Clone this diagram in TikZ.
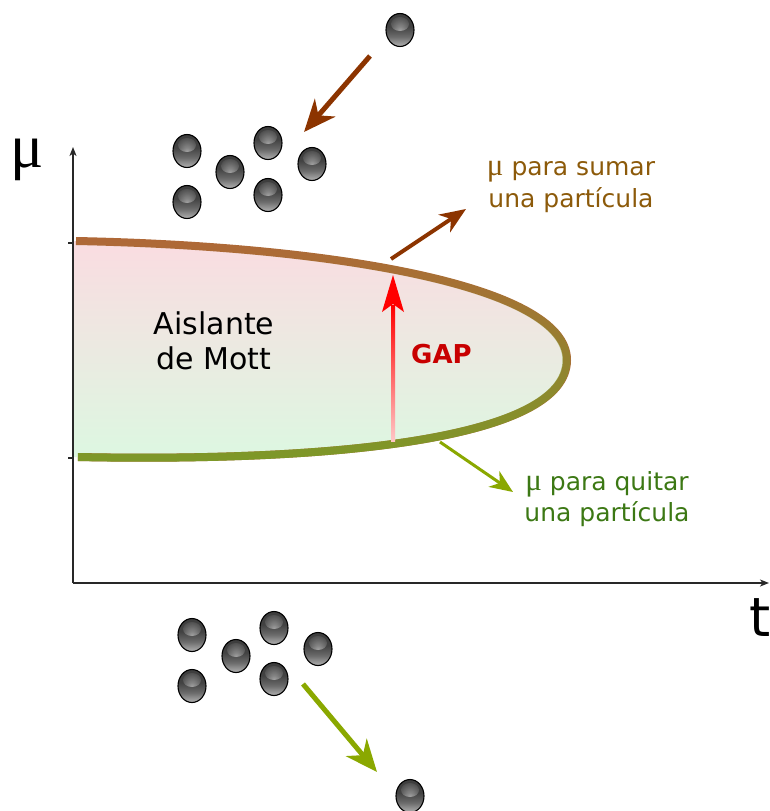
\documentclass[tikz,border=0pt]{standalone}
\usepackage{fontspec}
\setmainfont{DejaVu Sans}
\newfontfamily\greekf{Liberation Serif}
\usetikzlibrary{arrows.meta,shapes.geometric,fadings,calc}

\definecolor{lobetop}{RGB}{176,104,56}
\definecolor{lobebot}{RGB}{124,154,40}
\definecolor{fillpink}{RGB}{250,220,225}
\definecolor{fillgreen}{RGB}{220,248,225}
\definecolor{addbrown}{RGB}{140,52,0}
\definecolor{remgreen}{RGB}{138,168,0}
\definecolor{addtext}{RGB}{140,90,10}
\definecolor{remtext}{RGB}{60,120,20}
\definecolor{gaptext}{RGB}{200,0,0}
\definecolor{axisgray}{RGB}{40,40,40}

% body of a particle: light at the bottom, dark at the top
\pgfdeclareverticalshading{ballbody}{100bp}{%
  color(0bp)=(black!28); color(25bp)=(black!30); color(40bp)=(black!58);
  color(55bp)=(black!74); color(75bp)=(black!76); color(100bp)=(black!76)}

\tikzfading[name=glow, inner color=transparent!0, outer color=transparent!100]
\tikzfading[name=lobefade, top color=transparent!100, bottom color=transparent!0]

\tikzset{
  particle/.style={ellipse, minimum width=28pt, minimum height=33pt, inner sep=0pt,
    shade, shading=ballbody, draw=black, line width=1.1pt,
    path picture={\fill[white, opacity=0.45, path fading=glow]
      ($(path picture bounding box.center)+(0,-6)$) ellipse [x radius=9pt, y radius=7pt];}},
  axisline/.style={draw=axisgray, line width=1.4pt},
  axistip/.style={-{Stealth[length=9pt,width=7pt,inset=2.5pt]}},
  lobestroke/.style={line width=8pt, line cap=butt},
  addarrow/.style={draw=addbrown, line width=#1},
  remarrow/.style={draw=remgreen, line width=#1},
  bigsym/.style={inner sep=0pt, font=\fontsize{54}{60}\selectfont},
  mottlabel/.style={inner sep=0pt, font=\fontsize{30}{35}\selectfont},
  gaplabel/.style={inner sep=0pt, text=gaptext, font=\fontsize{26}{30}\selectfont\bfseries},
  addlabel/.style={inner sep=0pt, text=addtext, font=\fontsize{25}{30}\selectfont},
  remlabel/.style={inner sep=0pt, text=remtext, font=\fontsize{25}{30}\selectfont},
}

\begin{document}
\begin{tikzpicture}[x=1pt, y=-1pt]
\useasboundingbox (0,0) rectangle (770,811);

% Mott lobe: shaded interior
\shade[top color=fillpink, bottom color=fillgreen]
  (74.5,241) -- (76,241) .. controls (330,246) and (567,285) .. (567,360)
  .. controls (567,440) and (330,462) .. (78,457) -- (74.5,457) -- cycle;

% Mott lobe boundary, brown above blending into green below
\draw[lobestroke, lobetop]
  (76,241) .. controls (330,246) and (567,285) .. (567,360)
  .. controls (567,440) and (330,462) .. (78,457);
\draw[lobestroke, lobebot, path fading=lobefade, fit fading=true]
  (76,241) .. controls (330,246) and (567,285) .. (567,360)
  .. controls (567,440) and (330,462) .. (78,457);

% axes
\coordinate (origin) at (73,583);
\coordinate (ytop) at (73,147);
\coordinate (xend) at (769,583);
\draw[axisline, axistip] (origin) -- (ytop);
\draw[axisline, axistip] (origin) -- (xend);
\draw[axisline] (68,243) -- (73,243);
\draw[axisline] (68,458) -- (73,458);
\node[bigsym] (mu) at (27,160) {\greekf\fontsize{62}{60}\selectfont μ};
\node[bigsym] (t) at (760,618) {t};

% labels
\node[mottlabel, anchor=base] (mott1) at (214,334) {Aislante};
\node[mottlabel, anchor=base] (mott2) at (214,369) {de Mott};
\node[gaplabel, anchor=base] (gap) at (441.5,363) {GAP};
\node[addlabel, anchor=base] (add1) at (571,175) {{\greekf\fontsize{31}{30}\selectfont μ} para sumar};
\node[addlabel, anchor=base] (add2) at (571,207) {una partícula};
\node[remlabel, anchor=base] (rem1) at (607,490) {{\greekf\fontsize{31}{30}\selectfont μ} para quitar};
\node[remlabel, anchor=base] (rem2) at (607,521) {una partícula};

% gap arrow: shaft fading out downwards, solid head
\coordinate (gapbot) at (393,441);
\coordinate (gaptop) at (393,275);
\shade[top color=red, bottom color=red!22]
  ($(gapbot)+(-2,0)$) rectangle ($(gaptop)+(2,30)$);
\fill[red] (gaptop) -- ($(gaptop)+(11,37)$) -- ($(gaptop)+(0,29)$)
  -- ($(gaptop)+(-11,37)$) -- cycle;

% chemical potential arrows
\coordinate (addfrom) at (391,259);
\coordinate (addto) at (466,209);
\draw[addarrow=4pt, -{Stealth[length=26pt,width=21pt,inset=8pt]}] (addfrom) -- (addto);
\coordinate (remfrom) at (440,442);
\coordinate (remto) at (513,492);
\draw[remarrow=3pt, -{Stealth[length=23pt,width=19pt,inset=7pt]}] (remfrom) -- (remto);

% particles: one joining the upper cluster
\node[particle] (pin) at (400,30) {};
\node[particle] (u1) at (187,151) {};
\node[particle] (u2) at (230,172) {};
\node[particle] (u3) at (268,143) {};
\node[particle] (u4) at (312,164) {};
\node[particle] (u5) at (187,202) {};
\node[particle] (u6) at (268,195) {};
\coordinate (infrom) at (370,56);
\coordinate (into) at (304,132);
\draw[addarrow=5pt, -{Stealth[length=32pt,width=27pt,inset=10pt]}] (infrom) -- (into);

% particles: one leaving the lower cluster
\node[particle] (l1) at (192,635) {};
\node[particle] (l2) at (236,656) {};
\node[particle] (l3) at (274,628) {};
\node[particle] (l4) at (318,649) {};
\node[particle] (l5) at (192,686) {};
\node[particle] (l6) at (274,679) {};
\node[particle] (pout) at (410,796) {};
\coordinate (outfrom) at (303,684);
\coordinate (outto) at (377,772);
\draw[remarrow=5pt, -{Stealth[length=32pt,width=27pt,inset=10pt]}] (outfrom) -- (outto);
\end{tikzpicture}
\end{document}
